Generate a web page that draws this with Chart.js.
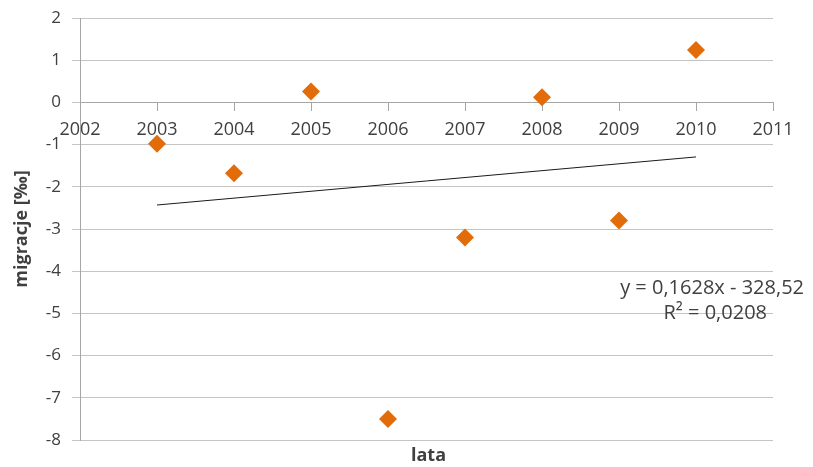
<!DOCTYPE html>
<html>
<head>
<meta charset="utf-8">
<script src="https://cdn.jsdelivr.net/npm/chart.js@4.4.1/dist/chart.umd.min.js"></script>
<style>
  html, body { margin: 0; padding: 0; background: #fff; }
  #box { width: 813px; height: 467px; }
</style>
</head>
<body>
<div id="box"><canvas id="myChart"></canvas></div>
<script>
// years and migration balance
const years = [2003, 2004, 2005, 2006, 2007, 2008, 2009, 2010];
const migracje = [-0.98, -1.68, 0.26, -7.5, -3.2, 0.12, -2.8, 1.24];

// linear trend as printed on the chart
const trendSlope = 0.1628;
const trendIntercept = -328.52;
const trendLabel = "y = 0,1628x - 328,52";
const r2Label = "R\u00b2 = 0,0208";
const trendYears = [2003, 2010];

const textColor = "#404040";
const fontName = "'Open Sans', sans-serif";

// draws equation text and the "lata" axis title
const notesPlugin = {
  id: "notes",
  afterDraw(chart) {
    const ctx = chart.ctx;
    const area = chart.chartArea;
    ctx.save();
    ctx.fillStyle = textColor;
    ctx.textBaseline = "middle";
    ctx.textAlign = "right";
    ctx.font = "20px " + fontName;
    ctx.fillText(trendLabel, 804, 288);
    ctx.fillText(r2Label, 767, 313);
    ctx.textAlign = "center";
    ctx.font = "bold 18px " + fontName;
    ctx.fillText("lata", (area.left + area.right) / 2 + 2, 456);
    ctx.restore();
  }
};

function drawChart() {
  const ctx = document.getElementById("myChart").getContext("2d");
  const points = years.map((y, i) => ({ x: y, y: migracje[i] }));
  const trend = trendYears.map((y) => ({ x: y, y: trendSlope * y + trendIntercept }));

  new Chart(ctx, {
    type: "scatter",
    data: {
      datasets: [
        {
          label: "migracje",
          data: points,
          pointStyle: "rectRot",
          pointRadius: 9,
          pointHoverRadius: 9,
          backgroundColor: "#e36c0a",
          borderColor: "#e36c0a",
          borderWidth: 0,
          order: 1,
        },
        {
          label: "trend",
          type: "line",
          data: trend,
          borderColor: "#1a1a1a",
          borderWidth: 1,
          pointRadius: 0,
          fill: false,
          order: 2,
        },
      ],
    },
    options: {
      responsive: true,
      maintainAspectRatio: false,
      animation: false,
      layout: { padding: { top: 18, right: 40, bottom: 27, left: 0 } },
      plugins: {
        legend: { display: false },
        tooltip: { enabled: false },
      },
      scales: {
        x: {
          type: "linear",
          position: { y: 0 },
          min: 2002,
          max: 2011,
          afterFit: (scale) => { scale.paddingTop = 0; scale.paddingBottom = 0; },
          ticks: {
            stepSize: 1,
            color: textColor,
            font: { family: fontName, size: 18 },
            padding: 9,
            callback: (v) => String(v),
          },
          grid: { drawOnChartArea: false, color: "#a6a6a6", tickLength: 8 },
          border: { color: "#a6a6a6" },
        },
        y: {
          min: -8,
          max: 2,
          afterFit: (scale) => {
            scale.width = 80;
            scale.paddingTop = 0;
            scale.paddingBottom = 0;
          },
          ticks: {
            stepSize: 1,
            color: textColor,
            font: { family: fontName, size: 17 },
            padding: 11,
          },
          grid: { color: "#c4c4c4", tickLength: 8 },
          border: { color: "#a6a6a6" },
          title: {
            display: true,
            text: "migracje [\u2030]",
            color: textColor,
            font: { family: fontName, size: 18, weight: "bold" },
            padding: { top: 11, bottom: 0 },
          },
        },
      },
    },
    plugins: [notesPlugin],
  });
}

drawChart();
</script>
</body>
</html>
